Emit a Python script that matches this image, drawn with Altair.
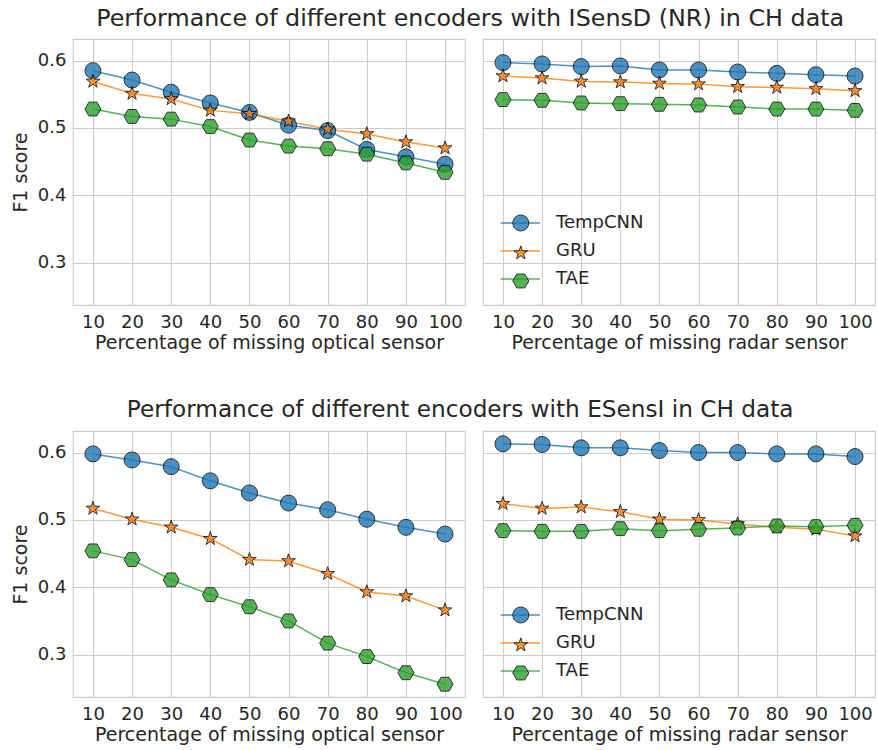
import math
import altair as alt
import pandas as pd

# Percentage of the sensor series that is missing
pct = [10, 20, 30, 40, 50, 60, 70, 80, 90, 100]
models = ["TempCNN", "GRU", "TAE"]
colors = ["#1f77b4", "#ff7f0e", "#2ca02c"]

# ISensD (NR): missing optical sensor
isensd_opt_tempcnn = [0.585, 0.571, 0.553, 0.537, 0.523, 0.504, 0.496, 0.468, 0.457, 0.446]
isensd_opt_gru = [0.569, 0.551, 0.543, 0.526, 0.521, 0.510, 0.498, 0.491, 0.479, 0.470]
isensd_opt_tae = [0.528, 0.517, 0.513, 0.502, 0.482, 0.473, 0.469, 0.461, 0.448, 0.434]

# ISensD (NR): missing radar sensor
isensd_rad_tempcnn = [0.597, 0.595, 0.591, 0.592, 0.586, 0.586, 0.583, 0.581, 0.579, 0.577]
isensd_rad_gru = [0.577, 0.574, 0.569, 0.568, 0.566, 0.565, 0.561, 0.560, 0.558, 0.555]
isensd_rad_tae = [0.542, 0.541, 0.537, 0.536, 0.535, 0.534, 0.531, 0.528, 0.528, 0.526]

# ESensI: missing optical sensor
esensi_opt_tempcnn = [0.598, 0.589, 0.579, 0.558, 0.540, 0.525, 0.515, 0.501, 0.489, 0.479]
esensi_opt_gru = [0.517, 0.501, 0.489, 0.472, 0.441, 0.439, 0.420, 0.393, 0.387, 0.366]
esensi_opt_tae = [0.454, 0.441, 0.411, 0.389, 0.371, 0.350, 0.317, 0.297, 0.273, 0.256]

# ESensI: missing radar sensor
esensi_rad_tempcnn = [0.613, 0.612, 0.607, 0.607, 0.603, 0.600, 0.600, 0.598, 0.598, 0.594]
esensi_rad_gru = [0.524, 0.517, 0.519, 0.512, 0.501, 0.500, 0.494, 0.489, 0.486, 0.476]
esensi_rad_tae = [0.484, 0.483, 0.483, 0.487, 0.484, 0.486, 0.488, 0.491, 0.490, 0.492]

FONT = "DejaVu Sans"
TEXT = "#262626"
GRID = "#cccccc"


def star_path(r_out=0.9, ratio=0.381966):
    pts = []
    for i in range(10):
        r = r_out if i % 2 == 0 else r_out * ratio
        a = math.pi / 2 - i * math.pi / 5
        pts.append(f"{r * math.cos(a):.4f},{-r * math.sin(a):.4f}")
    return "M" + "L".join(pts) + "Z"


HEXAGON = "M-1,0L-0.5,-0.866L0.5,-0.866L1,0L0.5,0.866L-0.5,0.866Z"
SHAPES = ["circle", star_path(), HEXAGON]
LEGEND_LINE = "M-2.46,0H2.46"


def frame(series):
    rows = []
    for name, vals in zip(models, series):
        for p, v in zip(pct, vals):
            rows.append({"pct": p, "f1": v, "model": name, "line_model": name})
    return pd.DataFrame(rows)


def panel(series, xtitle, left):
    df = frame(series)
    x = alt.X("pct:Q", title=xtitle,
              scale=alt.Scale(domain=[4.9, 105.1], nice=False, zero=False),
              axis=alt.Axis(values=pct, labelFlush=False, labelPadding=8, titlePadding=2))
    if left:
        yaxis = alt.Axis(values=[0.3, 0.4, 0.5, 0.6], format=".1f", title="F1 score",
                         labelPadding=7, titlePadding=7)
    else:
        yaxis = alt.Axis(values=[0.3, 0.4, 0.5, 0.6], labels=False, title=None)
    y = alt.Y("f1:Q", scale=alt.Scale(domain=[0.237, 0.632], nice=False, zero=False), axis=yaxis)

    if left:
        line_leg = None
        pt_leg = None
    else:
        common = dict(orient="none", legendY=175, title=None,
                      labelFont=FONT, labelFontSize=18, labelColor=TEXT,
                      rowPadding=10, padding=0, symbolSize=256)
        line_leg = alt.Legend(symbolType=LEGEND_LINE, symbolStrokeWidth=1.5,
                              symbolOpacity=0.8, labelOffset=26.7, legendX=28.3, **common)
        pt_leg = alt.Legend(symbolStrokeWidth=1, symbolOpacity=0.8, labelExpr="''",
                            labelOffset=26.7, legendX=28.8, **common)

    # connecting lines, coloured per encoder
    lines = alt.Chart(df).mark_line(strokeWidth=1.5, opacity=0.8).encode(
        x=x, y=y,
        color=alt.Color("line_model:N", sort=models,
                        scale=alt.Scale(range=colors), legend=line_leg),
        detail="model:N",
    )
    # markers: coloured fill, black edge, one shape per encoder
    points = alt.Chart(df).mark_point(filled=True, size=256, opacity=0.8,
                                      strokeWidth=1).encode(
        x=x, y=y,
        fill=alt.Fill("model:N", scale=alt.Scale(domain=models, range=colors), legend=pt_leg),
        shape=alt.Shape("model:N", scale=alt.Scale(domain=models, range=SHAPES), legend=pt_leg),
        stroke=alt.Stroke("model:N", scale=alt.Scale(domain=models, range=["black"] * 3),
                          legend=pt_leg),
    )
    return alt.layer(lines, points).properties(width=392, height=266)


def row(title, opt, rad, shift, size):
    return alt.hconcat(
        panel(opt, "Percentage of missing optical sensor", True),
        panel(rad, "Percentage of missing radar sensor", False),
        spacing=16,
        title=alt.TitleParams(title, anchor="middle", fontSize=size, font=FONT,
                              color=TEXT, fontWeight="normal", offset=8, dx=shift),
    ).resolve_legend(color="independent", stroke="independent",
                     fill="independent", shape="independent")


top = row("Performance of different encoders with ISensD (NR) in CH data",
          [isensd_opt_tempcnn, isensd_opt_gru, isensd_opt_tae],
          [isensd_rad_tempcnn, isensd_rad_gru, isensd_rad_tae], 27, 23.8)
bottom = row("Performance of different encoders with ESensI in CH data",
             [esensi_opt_tempcnn, esensi_opt_gru, esensi_opt_tae],
             [esensi_rad_tempcnn, esensi_rad_gru, esensi_rad_tae], 17, 23.2)

chart = alt.vconcat(top, bottom, spacing=45).resolve_legend(
    color="independent", stroke="independent", fill="independent", shape="independent"
).properties(
    padding={"left": 10, "top": 6, "right": 0, "bottom": 0},
    background="white",
).configure_view(
    stroke=GRID, strokeWidth=1.2
).configure_axis(
    gridColor=GRID, gridWidth=1, domain=False, ticks=False,
    labelFont=FONT, labelFontSize=18, labelColor=TEXT,
    titleFont=FONT, titleFontSize=19, titleColor=TEXT, titleFontWeight="normal",
)

chart.save("out.html", embed_options={"renderer": "svg", "actions": False})
